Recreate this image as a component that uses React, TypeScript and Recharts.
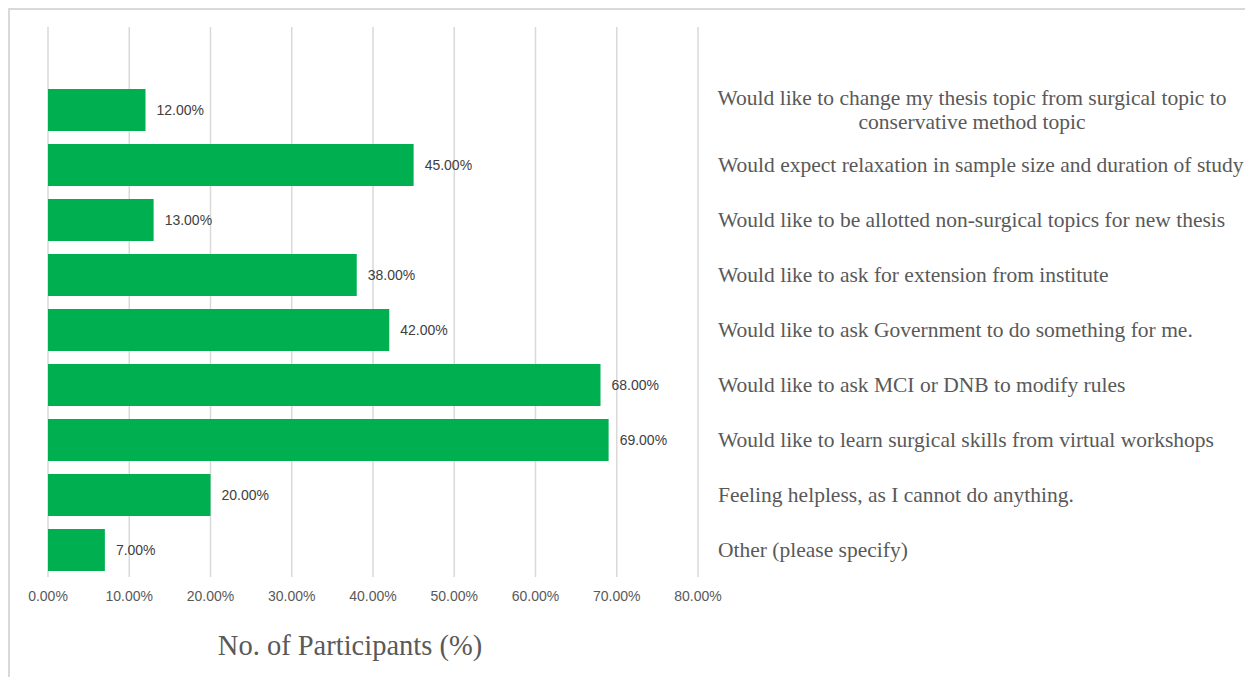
import React from "react";
import { Bar, BarChart, CartesianGrid, LabelList, XAxis, YAxis } from "recharts";

// top to bottom; the first slot is left blank, as in the source chart
const categories = [
  "",
  "Would like to change my thesis topic from surgical topic to\nconservative method topic",
  "Would expect relaxation in sample size and duration of study",
  "Would like to be allotted non-surgical topics for new thesis",
  "Would like to ask for extension from institute",
  "Would like to ask Government to do something for me.",
  "Would like to ask MCI or DNB to modify rules",
  "Would like to learn surgical skills from virtual workshops",
  "Feeling helpless, as I cannot do anything.",
  "Other (please specify)",
];
const participants: (number | null)[] = [null, 12, 45, 13, 38, 42, 68, 69, 20, 7];
const xTicks = [0, 10, 20, 30, 40, 50, 60, 70, 80];

const data = categories.map((name, i) => ({ name, value: participants[i] }));

const pct = (v: number) => `${v.toFixed(2)}%`;

function CategoryTick(props: any) {
  const { x, y, payload } = props;
  const lines = String(payload.value).split("\n");
  const style = { fontFamily: "Liberation Serif", fontSize: 21.5, fill: "#595959" };
  if (!lines[0]) return null;
  if (lines.length === 1) {
    return (
      <text x={x} y={y} dy={7} textAnchor="start" style={style}>
        {lines[0]}
      </text>
    );
  }
  const cx = x + 254;
  return (
    <text x={cx} y={y} textAnchor="middle" style={style}>
      {lines.map((l, i) => (
        <tspan key={i} x={cx} dy={i === 0 ? -5 : 24}>
          {l}
        </tspan>
      ))}
    </text>
  );
}

export default function App() {
  return (
    <div
      style={{
        width: 1243,
        height: 667,
        borderTop: "2px solid #d9d9d9",
        borderLeft: "2px solid #d9d9d9",
        overflow: "hidden",
      }}
    >
      <BarChart
        width={1243}
        height={667}
        data={data}
        layout="vertical"
        margin={{ top: 17, left: 38, right: 15, bottom: 10 }}
        barSize={42}
      >
        <CartesianGrid horizontal={false} stroke="#d9d9d9" strokeWidth={1.5} />
        <XAxis
          type="number"
          domain={[0, 80]}
          ticks={xTicks}
          tickFormatter={pct}
          axisLine={false}
          tickLine={false}
          tickMargin={8}
          height={90}
          tick={{ fontFamily: "Liberation Sans", fontSize: 14, fill: "#595959" }}
          label={{
            content: (p: any) => {
              const vb = p.viewBox;
              return (
                <text
                  x={vb.x + vb.width / 2 - 23}
                  y={vb.y + 78}
                  textAnchor="middle"
                  style={{ fontFamily: "Liberation Serif", fontSize: 28.5, fill: "#595959" }}
                >
                  No. of Participants (%)
                </text>
              );
            },
          }}
        />
        <YAxis
          type="category"
          dataKey="name"
          orientation="right"
          width={540}
          axisLine={false}
          tickLine={false}
          tickSize={0}
          tickMargin={20}
          interval={0}
          tick={<CategoryTick />}
        />
        <Bar dataKey="value" fill="#00b050" isAnimationActive={false}>
          <LabelList
            dataKey="value"
            position="right"
            offset={11}
            formatter={(v: any) => (v == null ? "" : pct(Number(v)))}
            style={{ fontFamily: "Liberation Sans", fontSize: 14, fill: "#404040" }}
          />
        </Bar>
      </BarChart>
    </div>
  );
}
